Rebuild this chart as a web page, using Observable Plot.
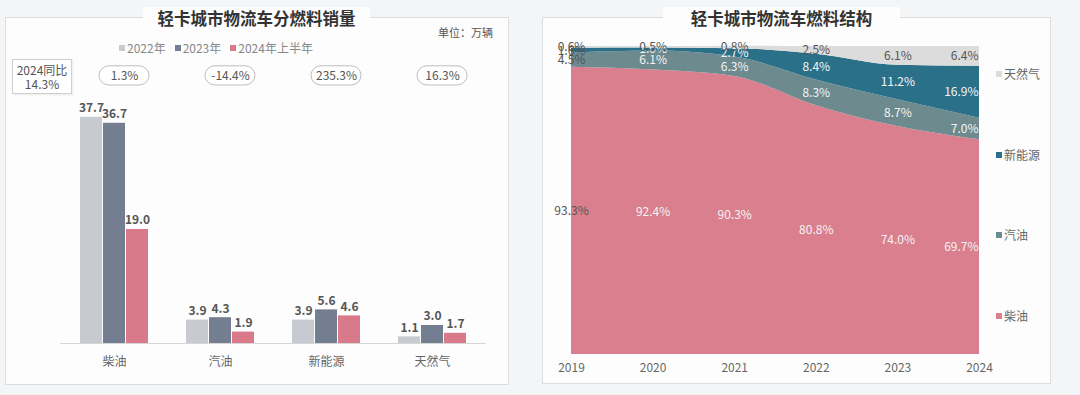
<!DOCTYPE html>
<html><head><meta charset="utf-8">
<script src="https://cdn.jsdelivr.net/npm/d3@7"></script>
<script src="https://cdn.jsdelivr.net/npm/@observablehq/plot@0.6"></script>
<style>
html,body{margin:0;padding:0;}
body{width:1080px;height:395px;background:#f4f5f7;position:relative;overflow:hidden;font-family:"Noto Sans CJK SC","Noto Sans",sans-serif;}
.box{position:absolute;background:#fdfdfd;border:1px solid #dcdde0;box-sizing:border-box;}
.title{position:absolute;background:#fdfdfd;font-weight:bold;font-size:16.5px;color:#333;text-align:center;line-height:22px;}
.abs{position:absolute;}
.leg{position:absolute;font-size:12px;color:#888;white-space:nowrap;}
.sq{display:inline-block;width:6px;height:6px;margin-right:2px;vertical-align:2px;}
svg{position:absolute;}
</style></head>
<body>
<div class="box" style="left:5px;top:17px;width:504px;height:368px;"></div>
<div class="box" style="left:542px;top:17px;width:509px;height:367px;"></div>
<div class="title" style="left:143px;top:7px;width:227px;">轻卡城市物流车分燃料销量</div>
<div class="title" style="left:663px;top:7px;width:237px;">轻卡城市物流车燃料结构</div>
<div class="abs" style="left:430px;top:24px;width:63px;text-align:right;font-size:11px;color:#555;">单位：万辆</div>
<div id="leftLegend" class="leg" style="left:119px;top:39px;"></div>
<div class="abs" id="yoyBox" style="left:12px;top:59px;width:60px;height:35px;border:1px solid #cfcfcf;background:#fff;box-sizing:border-box;font-size:12px;color:#555;text-align:center;line-height:14px;padding-top:3px;box-shadow:1px 1px 2px rgba(0,0,0,0.08);"></div>
<div id="left"></div>
<div id="right"></div>
<div id="rightLegend"></div>
<script>
// ---- Left chart data ----
const fuels = ["柴油", "汽油", "新能源", "天然气"];
const periods = ["2022年", "2023年", "2024年上半年"];
const sales2022 = [37.7, 3.9, 3.9, 1.1];
const sales2023 = [36.7, 4.3, 5.6, 3.0];
const sales2024H1 = [19.0, 1.9, 4.6, 1.7];
const yoy2024 = ["1.3%", "-14.4%", "235.3%", "16.3%"];
const totalYoyLabel = "2024同比";
const totalYoy = "14.3%";
const periodColors = ["#c7cbd1", "#737f90", "#d97a8a"];

// ---- Right chart data ----
const years = [2019, 2020, 2021, 2022, 2023, 2024];
const shareDiesel = [93.3, 92.4, 90.3, 80.8, 74.0, 69.7];
const shareGasoline = [4.5, 6.1, 6.3, 8.3, 8.7, 7.0];
const shareNEV = [1.6, 1.0, 2.7, 8.4, 11.2, 16.9];
const shareCNG = [0.6, 0.5, 0.8, 2.5, 6.1, 6.4];
const structFuels = ["柴油", "汽油", "新能源", "天然气"];
const structColors = ["#d97f8d", "#6d8a8f", "#2b7089", "#dcdcdc"];

// build tables
const seriesByPeriod = [sales2022, sales2023, sales2024H1];
const bars = [];
fuels.forEach((f, i) => periods.forEach((p, j) => bars.push({fuel: f, period: p, value: seriesByPeriod[j][i]})));
const pills = fuels.map((f, i) => ({fuel: f, text: yoy2024[i]}));

const seriesByFuel = [shareDiesel, shareGasoline, shareNEV, shareCNG];
const shares = [];
structFuels.forEach((f, i) => years.forEach((y, k) => shares.push({fuel: f, year: y, value: seriesByFuel[i][k]})));

// legend + yoy box
document.getElementById("leftLegend").innerHTML = periods.map((p, j) =>
  `<span style="margin-right:9px"><span class="sq" style="background:${periodColors[j]}"></span>${p}</span>`).join("");
document.getElementById("yoyBox").innerHTML = `${totalYoyLabel}<br>${totalYoy}`;

const pillY1 = 43.0, pillY2 = 46.2;
const left = Plot.plot({
  width: 510, height: 395,
  marginLeft: 42, marginRight: 6, marginTop: 43, marginBottom: 52,
  style: {background: "transparent", fontFamily: "'Noto Sans CJK SC', sans-serif", overflow: "visible"},
  fx: {domain: fuels, paddingInner: 0.335, paddingOuter: 0.335, align: 0.5, label: null, tickSize: 0, tickPadding: 14, axis: "bottom"},
  x: {domain: periods, paddingInner: 0.03, paddingOuter: 0, axis: null},
  y: {domain: [0, 50], axis: null},
  color: {domain: periods, range: periodColors},
  marks: [
    Plot.barY(bars, {fx: "fuel", x: "period", y: "value", fill: "period"}),
    Plot.ruleY([0], {stroke: "#d6d6d6", strokeWidth: 1.2, insetLeft: -19, insetRight: -19}),
    Plot.text(bars, {fx: "fuel", x: "period", y: "value", text: d => d.value.toFixed(1), dy: -9, fontWeight: "bold", fontSize: 12, fill: "#555"}),
    Plot.barY(pills, {fx: "fuel", y1: pillY1, y2: pillY2, rx: 10, fill: "#fff", stroke: "#bdbdbd", strokeWidth: 1, insetLeft: 20, insetRight: 0}),
    Plot.text(pills, {fx: "fuel", y: (pillY1 + pillY2) / 2, text: "text", dx: 10, fontSize: 12, fill: "#555"})
  ]
});
left.style.left = "0px"; left.style.top = "0px";
left.querySelectorAll("g[aria-label='fx-axis tick label']").forEach(g => { g.setAttribute("fill", "#666"); g.setAttribute("font-size", "12"); });
document.getElementById("left").appendChild(left);

const order = structFuels;
const lastYear = years[years.length - 1];
const labelFill = d => (d.year === years[0] || d.fuel === structFuels[3]) ? "#555" : "#f4f4f4";
const right = Plot.plot({
  width: 540, height: 395,
  marginLeft: 31, marginRight: 101, marginTop: 46, marginBottom: 41,
  style: {background: "transparent", fontFamily: "'Noto Sans CJK SC', sans-serif", overflow: "visible"},
  x: {domain: [years[0], lastYear], ticks: years, tickFormat: "d", tickSize: 0, tickPadding: 9, label: null},
  y: {domain: [0, 100], axis: null},
  color: {domain: structFuels, range: structColors},
  marks: [
    Plot.areaY(shares, Plot.stackY({x: "year", y: "value", z: "fuel", fill: "fuel", order, curve: "monotone-x"})),
    Plot.text(shares, Plot.stackY({x: "year", y: "value", z: "fuel", order, filter: d => d.year !== lastYear, text: d => d.value.toFixed(1) + "%", fill: labelFill, fontSize: 12})),
    Plot.text(shares, Plot.stackY({x: "year", y: "value", z: "fuel", order, filter: d => d.year === lastYear, text: d => d.value.toFixed(1) + "%", fill: labelFill, fontSize: 12, textAnchor: "end", dx: -1}))
  ]
});
right.style.left = "540px"; right.style.top = "0px";
right.querySelectorAll("g[aria-label='x-axis tick label']").forEach(g => { g.setAttribute("fill", "#666"); g.setAttribute("font-size", "12"); });
document.getElementById("right").appendChild(right);

// right legend
const legY = [74, 155, 235, 316];
const legOrder = [3, 2, 1, 0];
document.getElementById("rightLegend").innerHTML = legOrder.map((k, i) =>
  `<div class="leg" style="left:996px;top:${legY[i] - 9}px;color:#666"><span class="sq" style="background:${structColors[k]}"></span>${structFuels[k]}</div>`).join("");
</script>
</body></html>
